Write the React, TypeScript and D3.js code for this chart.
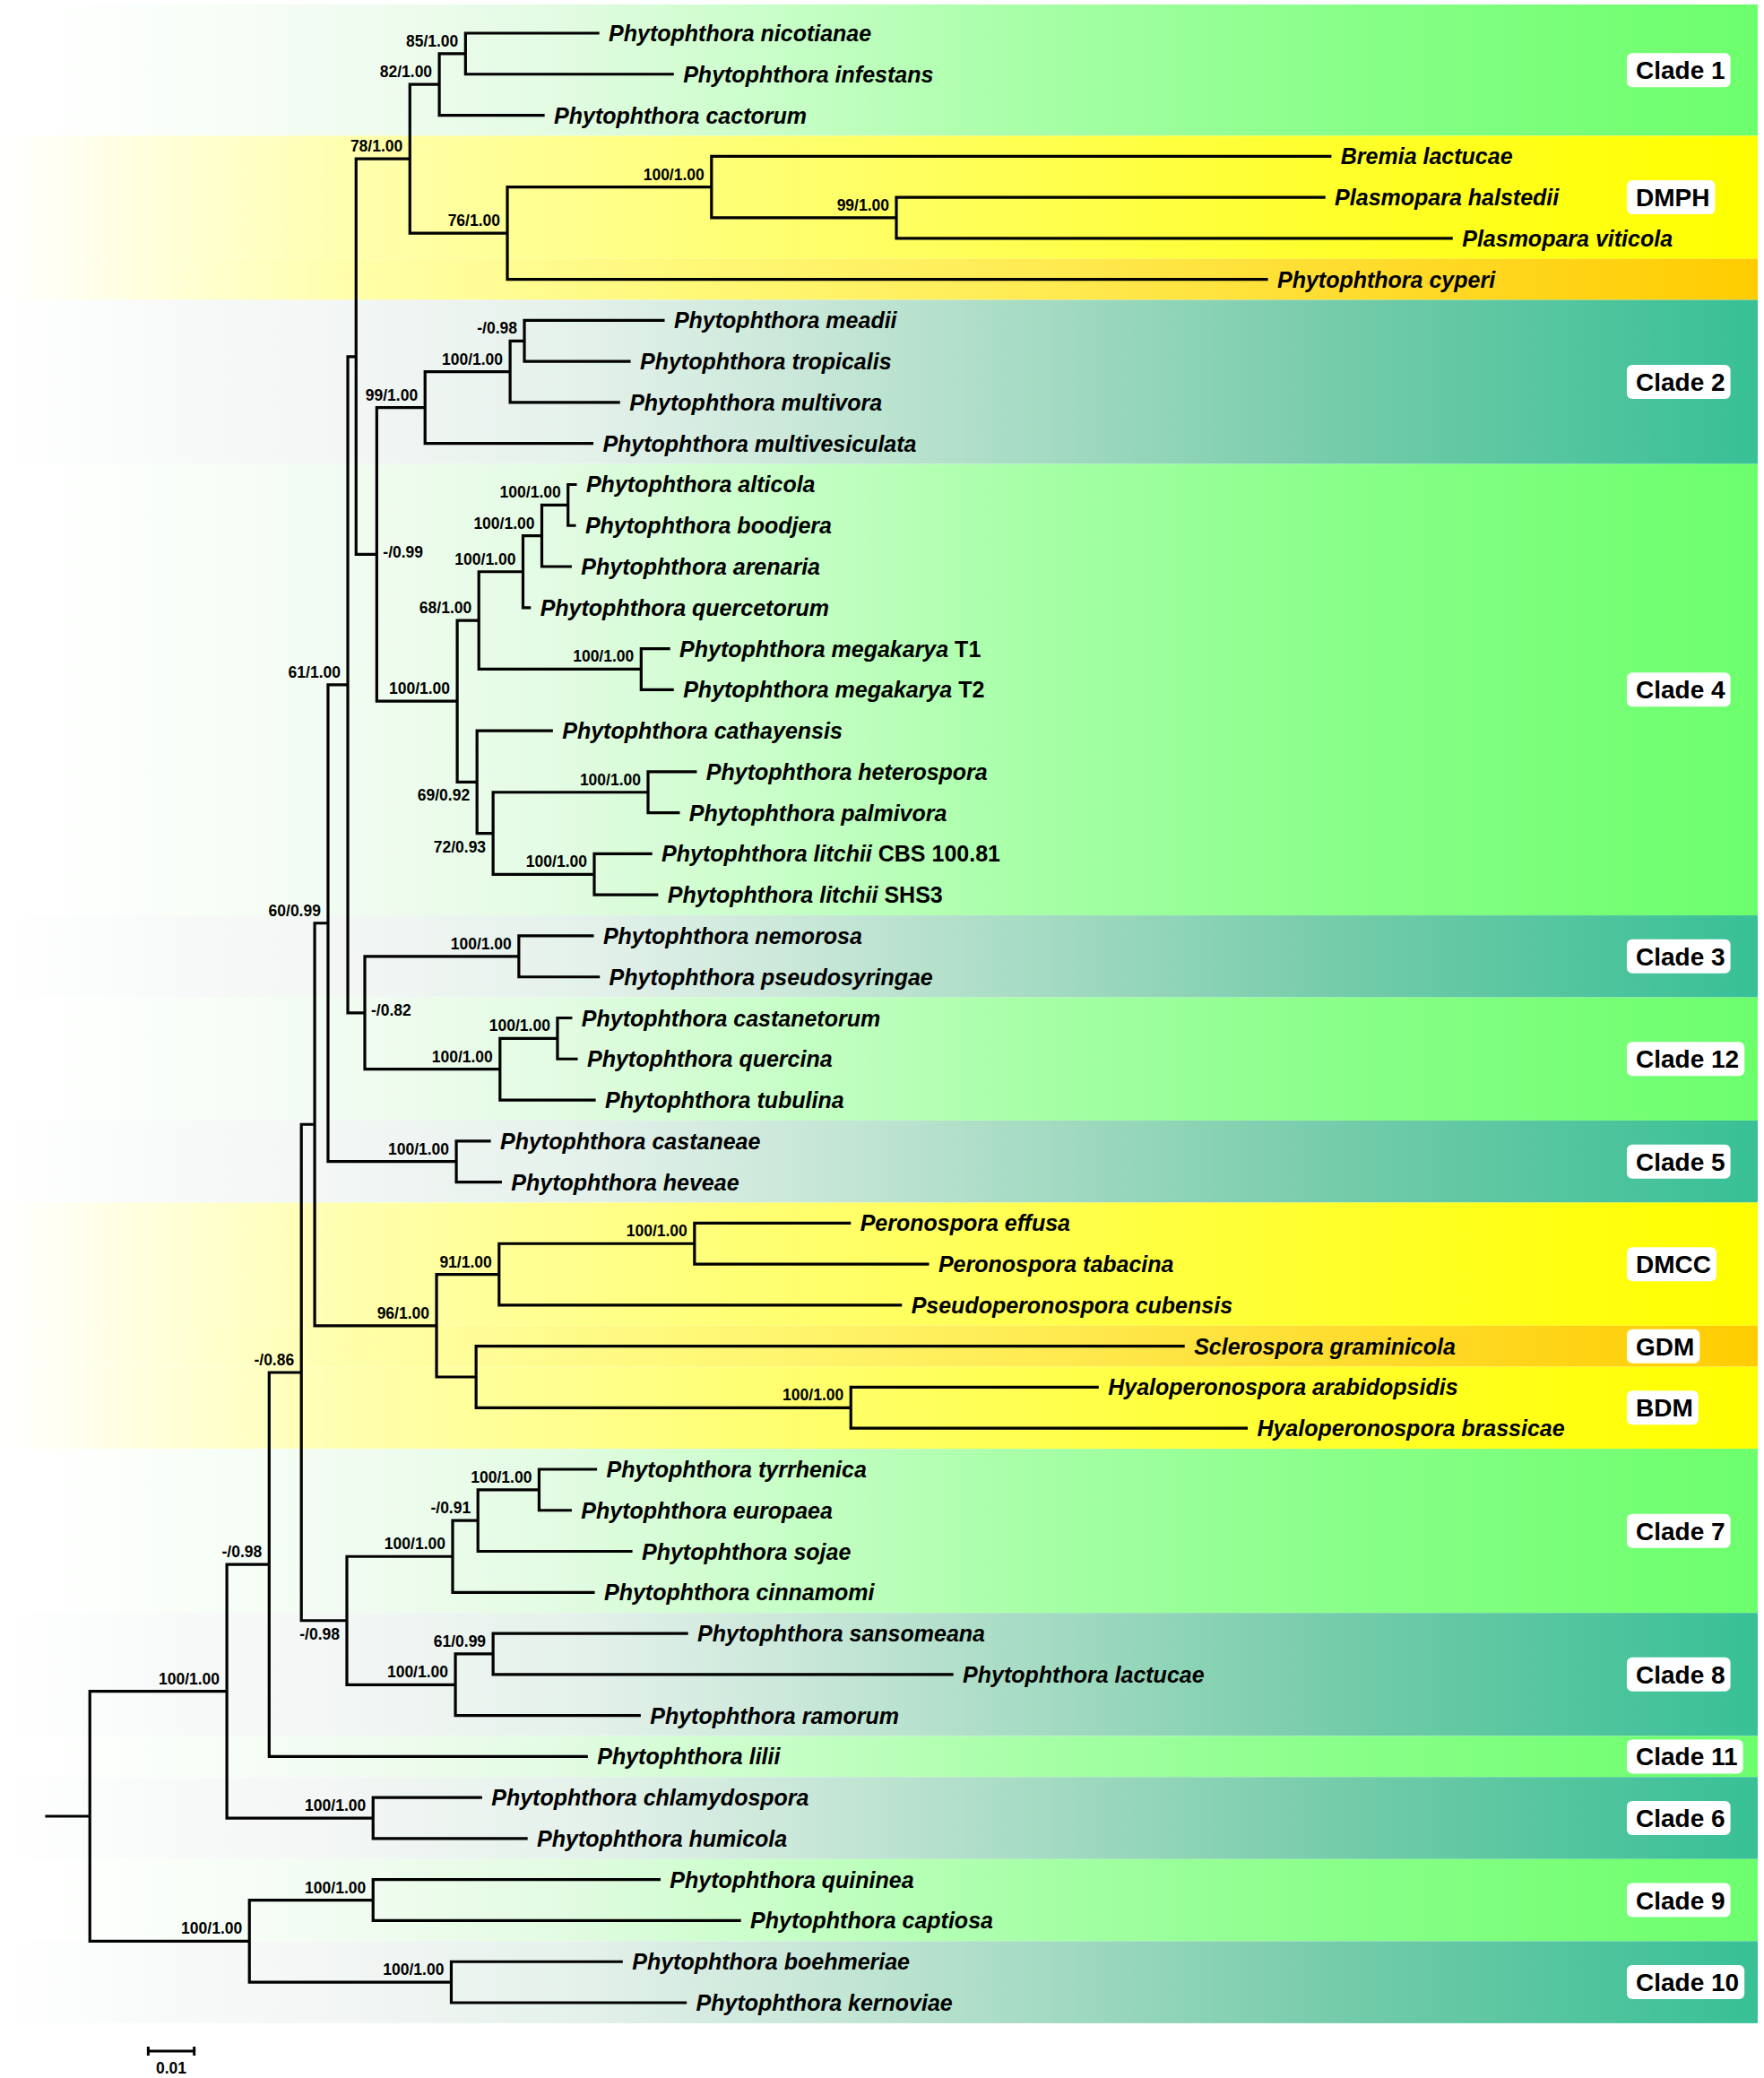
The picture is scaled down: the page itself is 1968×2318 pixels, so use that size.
import React from "react";
import * as d3 from "d3";

// ---------- DATA ----------
// Subtrees in Newick (branch lengths in substitutions/site). Internal labels = support (ML bootstrap / BI pp);
// suffix "#b" = label below branch, "#r" = label right of node.
const CLADE1 = "((Phytophthora nicotianae:0.0288,Phytophthora infestans:0.0450)85/1.00:0.0057,Phytophthora cactorum:0.0226)82/1.00:0.0064";
const DMPH = "((Bremia lactucae:0.1345,(Plasmopara halstedii:0.0930,Plasmopara viticola:0.1207)99/1.00:0.0402)100/1.00:0.0444,Phytophthora cyperi:0.1651)76/1.00:0.0212";
const CLADE2 = "(((Phytophthora meadii:0.0302,Phytophthora tropicalis:0.0228)-/0.98:0.0031,Phytophthora multivora:0.0236)100/1.00:0.0185,Phytophthora multivesiculata:0.0363)99/1.00:0.0105";
const CLADE4A = "(((Phytophthora alticola:0.0016,Phytophthora boodjera:0.0014)100/1.00:0.0057,Phytophthora arenaria:0.0062)100/1.00:0.0041,Phytophthora quercetorum:0.0014)100/1.00:0.0096";
const MEGAKARYA = "(Phytophthora megakarya T1:0.0060,Phytophthora megakarya T2:0.0068)100/1.00:0.0353";
const CLADE4B = "(Phytophthora cathayensis:0.0162,((Phytophthora heterospora:0.0103,Phytophthora palmivora:0.0066)100/1.00:0.0337,(Phytophthora litchii CBS 100.81:0.0123,Phytophthora litchii SHS3:0.0136)100/1.00:0.0220)72/0.93#b:0.0035)69/0.92#b:0.0043";
const CLADE3_12 = "((Phytophthora nemorosa:0.0160,Phytophthora pseudosyringae:0.0173)100/1.00:0.0335,((Phytophthora castanetorum:0.0029,Phytophthora quercina:0.0041)100/1.00:0.0125,Phytophthora tubulina:0.0205)100/1.00:0.0294)-/0.82#r:0.0037";
const CLADE5 = "(Phytophthora castaneae:0.0072,Phytophthora heveae:0.0096)100/1.00:0.0279";
const DOWNY = "(((Peronospora effusa:0.0337,Peronospora tabacina:0.0507)100/1.00:0.0425,Pseudoperonospora cubensis:0.0873)91/1.00:0.0136,(Sclerospora graminicola:0.1538,(Hyaloperonospora arabidopsidis:0.0536,Hyaloperonospora brassicae:0.0860)100/1.00:0.0815):0.0086)96/1.00:0.0265";
const CLADE7_8 = "((((Phytophthora tyrrhenica:0.0123,Phytophthora europaea:0.0068)100/1.00:0.0133,Phytophthora sojae:0.0333)-/0.91:0.0055,Phytophthora cinnamomi:0.0306)100/1.00:0.0230,((Phytophthora sansomeana:0.0421,Phytophthora lactucae:0.0998)61/0.99:0.0082,Phytophthora ramorum:0.0400)100/1.00:0.0236)-/0.98#b:0.0099";
const CLADE6 = "(Phytophthora chlamydospora:0.0234,Phytophthora humicola:0.0333)100/1.00:0.0318";
const CLADE9_10 = "((Phytophthora quininea:0.0622,Phytophthora captiosa:0.0797)100/1.00:0.0269,(Phytophthora boehmeriae:0.0370,Phytophthora kernoviae:0.0509)100/1.00:0.0439)100/1.00:0.0347";

const NEWICK =
  "(((((((((" + CLADE1 + "," + DMPH + ")78/1.00:0.0117," +
  "(" + CLADE2 + ",((" + CLADE4A + "," + MEGAKARYA + ")68/1.00:0.0047," + CLADE4B + ")100/1.00:0.0175)-/0.99#r:0.0045" +
  "):0.0018," + CLADE3_12 + ")61/1.00:0.0043," + CLADE5 + ")60/0.99:0.0029," + DOWNY + "):0.0029," +
  CLADE7_8 + ")-/0.86:0.0070,Phytophthora lilii:0.0690)-/0.98:0.0092," + CLADE6 + ")100/1.00:0.0298," +
  CLADE9_10 + "):0.0094;";

const NON_ITALIC_SUFFIXES = ["T1", "T2", "CBS 100.81", "SHS3"];

// Clade bands: label, first leaf, last leaf, colour family
const BAND_LABELS = ["Clade 1", "DMPH", "", "Clade 2", "Clade 4", "Clade 3", "Clade 12", "Clade 5", "DMCC", "GDM", "BDM", "Clade 7", "Clade 8", "Clade 11", "Clade 6", "Clade 9", "Clade 10"];
const BAND_FIRST = ["Phytophthora nicotianae", "Bremia lactucae", "Phytophthora cyperi", "Phytophthora meadii", "Phytophthora alticola", "Phytophthora nemorosa", "Phytophthora castanetorum", "Phytophthora castaneae", "Peronospora effusa", "Sclerospora graminicola", "Hyaloperonospora arabidopsidis", "Phytophthora tyrrhenica", "Phytophthora sansomeana", "Phytophthora lilii", "Phytophthora chlamydospora", "Phytophthora quininea", "Phytophthora boehmeriae"];
const BAND_LAST = ["Phytophthora cactorum", "Plasmopara viticola", "Phytophthora cyperi", "Phytophthora multivesiculata", "Phytophthora litchii SHS3", "Phytophthora pseudosyringae", "Phytophthora tubulina", "Phytophthora heveae", "Pseudoperonospora cubensis", "Sclerospora graminicola", "Hyaloperonospora brassicae", "Phytophthora cinnamomi", "Phytophthora ramorum", "Phytophthora lilii", "Phytophthora humicola", "Phytophthora captiosa", "Phytophthora kernoviae"];
const BAND_KIND = ["green", "yellow", "orange", "teal", "green", "teal", "green", "teal", "yellow", "orange", "yellow", "green", "teal", "green", "teal", "green", "teal"];

const GRADIENTS: Record<string, [number, string][]> = {
  green: [[0, "#FFFFFF"], [0.05, "#FDFFFD"], [0.2, "#F1FCF1"], [0.32, "#E2FBE2"], [0.45, "#C6FEC6"], [0.58, "#A8FFA8"], [0.77, "#88FF88"], [1, "#6CFF6C"]],
  teal: [[0, "#FFFFFF"], [0.05, "#FBFCFC"], [0.2, "#F2F6F4"], [0.32, "#E6F2EC"], [0.45, "#CBE8DA"], [0.58, "#A8DCC4"], [0.77, "#72CBA9"], [1, "#38C096"]],
  yellow: [[0, "#FFFFFF"], [0.03, "#FFFFF4"], [0.1, "#FFFFD6"], [0.2, "#FFFFAE"], [0.4, "#FFFF7A"], [0.65, "#FFFF42"], [0.9, "#FFFF10"], [1, "#FFFF00"]],
  orange: [[0, "#FFFFFF"], [0.03, "#FFFFF4"], [0.1, "#FFFFD6"], [0.2, "#FFFFAA"], [0.4, "#FFF876"], [0.6, "#FFEA50"], [0.8, "#FFDA28"], [1, "#FFCC00"]],
};

const SCALE_BAR_VALUE = 0.01;
const SCALE_BAR_LABEL = "0.01";

// ---------- helpers ----------
type NNode = { name: string; length: number; children: NNode[] };
function parseNewick(s: string): NNode {
  let i = 0;
  function node(): NNode {
    const n: NNode = { name: "", length: 0, children: [] };
    if (s[i] === "(") {
      i++;
      n.children.push(node());
      while (s[i] === ",") { i++; n.children.push(node()); }
      i++;
    }
    let name = "";
    while (i < s.length && !"(),:;".includes(s[i])) name += s[i++];
    n.name = name.trim();
    if (s[i] === ":") {
      i++;
      let num = "";
      while (i < s.length && !"(),;".includes(s[i])) num += s[i++];
      n.length = parseFloat(num);
    }
    return n;
  }
  return node();
}

const FONT = "'Liberation Sans', Arial, Helvetica, sans-serif";

function measure(text: string, font: string): number {
  const c = document.createElement("canvas").getContext("2d");
  if (!c) return text.length * 16;
  c.font = font;
  return c.measureText(text).width;
}

export default function App() {
  const W = 1968, H = 2318;
  const root: any = d3.hierarchy(parseNewick(NEWICK), (d: NNode) => (d.children.length ? d.children : null));
  root.eachBefore((n: any) => { n.len = (n.parent ? n.parent.len : 0) + n.data.length; });
  const leaves = root.leaves();
  const y = d3.scalePoint<string>().domain(leaves.map((l: any) => l.data.name)).range([37, 2234]);
  const x = d3.scaleLinear().domain([0, 0.01]).range([52, 103.3]);
  root.eachAfter((n: any) => {
    n.yy = n.children ? (n.children[0].yy + n.children[n.children.length - 1].yy) / 2 : (y(n.data.name) as number);
  });
  const step = y.step();
  const nodes = root.descendants();

  let path = `M${x(0)},${root.yy}H${x(root.len)}`;
  nodes.forEach((n: any) => {
    if (n.parent) path += `M${x(n.parent.len)},${n.yy}H${x(n.len)}`;
    if (n.children) path += `M${x(n.len)},${n.children[0].yy}V${n.children[n.children.length - 1].yy}`;
  });

  const bandRight = 1961;

  return (
    <svg width={W} height={H} style={{ position: "absolute", left: 0, top: 0, background: "#fff" }} fontFamily={FONT}>
      <defs>
        {Object.keys(GRADIENTS).map((k) => (
          <linearGradient key={k} id={`g-${k}`} x1="0" x2="1" y1="0" y2="0">
            {GRADIENTS[k].map(([o, c], i) => <stop key={i} offset={o} stopColor={c} />)}
          </linearGradient>
        ))}
      </defs>
      <rect width={W} height={H} fill="#fff" />
      {BAND_LABELS.map((lab, i) => {
        const top = i === 0 ? 5 : (y(BAND_FIRST[i]) as number) - step / 2;
        const bot = (y(BAND_LAST[i]) as number) + step / 2;
        return <rect key={i} x={0} y={top} width={bandRight} height={bot - top} fill={`url(#g-${BAND_KIND[i]})`} />;
      })}
      {BAND_LABELS.map((lab, i) => {
        if (!lab) return null;
        const top = i === 0 ? 5 : (y(BAND_FIRST[i]) as number) - step / 2;
        const bot = (y(BAND_LAST[i]) as number) + step / 2;
        const cy = (top + bot) / 2;
        const w = measure(lab, `bold 28px ${FONT}`);
        return (
          <g key={"l" + i}>
            <rect x={1815} y={cy - 19} width={w + 16} height={38} rx={6} fill="#fff" />
            <text x={1825} y={cy + 10} fontSize={28} fontWeight="bold" fill="#000">{lab}</text>
          </g>
        );
      })}
      <path d={path} fill="none" stroke="#000" strokeWidth={3.2} strokeLinecap="square" />
      {leaves.map((l: any, i: number) => {
        const name: string = l.data.name;
        const suf = NON_ITALIC_SUFFIXES.find((s) => name.endsWith(" " + s));
        const ital = suf ? name.slice(0, name.length - suf.length - 1) : name;
        return (
          <text key={i} x={x(l.len) + 12} y={l.yy} dy="0.36em" fontSize={25} fontWeight="bold" fill="#000">
            <tspan fontStyle="italic">{ital}</tspan>
            {suf ? <tspan>{" " + suf}</tspan> : null}
          </text>
        );
      })}
      {nodes.filter((n: any) => n.children && n.data.name).map((n: any, i: number) => {
        const [lab, pos] = n.data.name.split("#");
        const nx = x(n.len);
        if (pos === "r") {
          return <text key={i} x={nx + 7} y={n.yy - 3} dy="0.36em" fontSize={17.5} fontWeight="bold">{lab}</text>;
        }
        const ty = pos === "b" ? n.yy + 21 : n.yy - 8;
        return <text key={i} x={nx - 8} y={ty} textAnchor="end" fontSize={17.5} fontWeight="bold">{lab}</text>;
      })}
      {(() => {
        const x0 = x(0.0221), x1 = x(0.0221 + SCALE_BAR_VALUE), yb = 2288;
        return (
          <g>
            <path d={`M${x0},${yb}H${x1}M${x0},${yb - 5}V${yb + 5}M${x1},${yb - 5}V${yb + 5}`} stroke="#000" strokeWidth={3} fill="none" />
            <text x={(x0 + x1) / 2} y={2313} textAnchor="middle" fontSize={17.5} fontWeight="bold">{SCALE_BAR_LABEL}</text>
          </g>
        );
      })()}
    </svg>
  );
}
